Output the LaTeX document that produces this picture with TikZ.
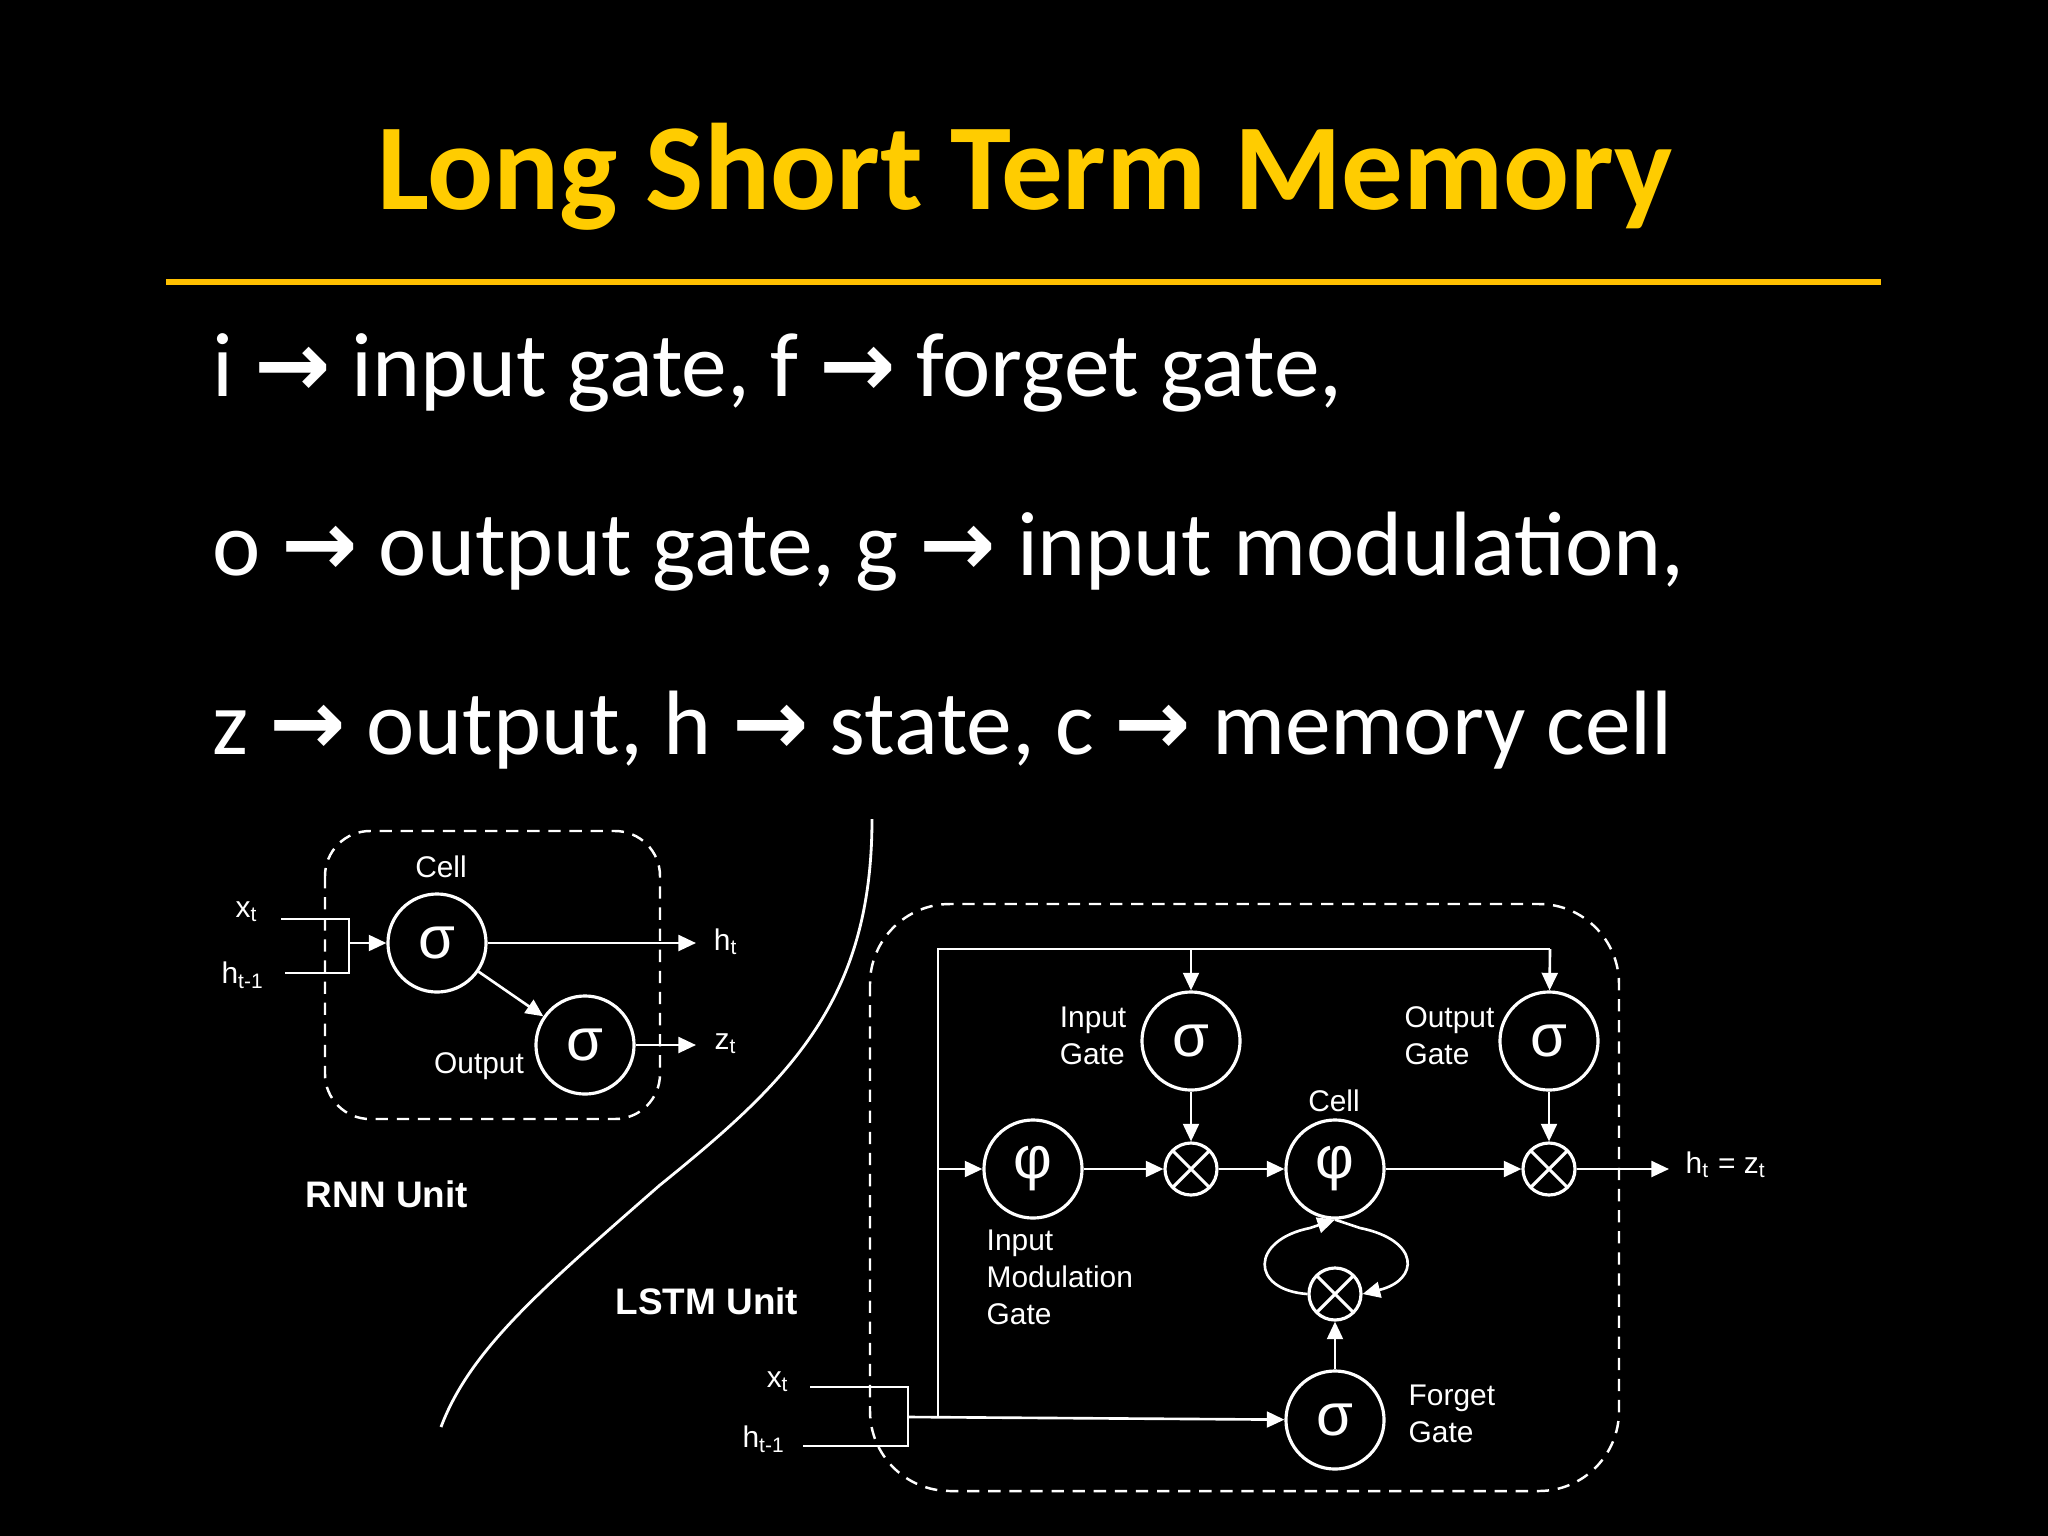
\documentclass[tikz,border=0pt]{standalone}
\usepackage{fontspec}
\setmainfont{Carlito}
\newfontfamily\arialf{Liberation Sans}
\newfontfamily\dejavu{DejaVu Sans}
\usetikzlibrary{arrows.meta}
\begin{document}
\begin{tikzpicture}[x=0.01cm,y=-0.01cm,
  ln/.style={draw=white,line width=0.75pt},
  arr/.style={ln,-{Triangle[length=5pt,width=4.5pt]}},
  circ/.style={circle,draw=white,line width=0.9pt,minimum size=0.98cm,inner sep=0pt,text=white,font=\arialf\fontsize{17}{17}\selectfont},
  mult/.style={circle,draw=white,line width=0.9pt,minimum size=0.52cm,inner sep=0pt,
    path picture={\draw[white,line width=0.9pt] (path picture bounding box.south west)--(path picture bounding box.north east) (path picture bounding box.north west)--(path picture bounding box.south east);}},
  lbl/.style={text=white,font=\arialf\fontsize{8.5}{10.5}\selectfont,inner sep=0pt},
  unit/.style={text=white,font=\arialf\bfseries\fontsize{10.5}{12}\selectfont,inner sep=0pt},
  dbox/.style={draw=white,line width=0.7pt,dash pattern=on 3.5pt off 2.5pt},
  body/.style={text=white,font=\fontsize{26}{30}\selectfont,anchor=base west,inner sep=0pt}]
\fill[black] (0,0) rectangle (2048,1536);
\useasboundingbox (0,0) rectangle (2048,1536);
% title
\node[text={rgb,255:red,255;green,204;blue,0},font=\bfseries\fontsize{35}{40}\selectfont,anchor=base] (title) at (1025,209) {Long Short Term Memory};
\draw[draw={rgb,255:red,255;green,192;blue,0},line width=1.6pt] (166,282) -- (1881,282);
\node[body] (l1) at (212,396) {i {\dejavu\bfseries →} input gate, f {\dejavu\bfseries →} forget gate,};
\node[body] (l2) at (212,575) {o {\dejavu\bfseries →} output gate, g {\dejavu\bfseries →} input modulation,};
\node[body] (l3) at (212,754) {z {\dejavu\bfseries →} output, h {\dejavu\bfseries →} state, c {\dejavu\bfseries →} memory cell};
% RNN
\draw[dbox,rounded corners=0.45cm] (325,831) rectangle (660,1119);
\node[circ] (rc) at (437,943) {σ};
\node[circ] (ro) at (585,1045) {σ};
\node[lbl] (rcl) at (441,867) {Cell};
\node[lbl] (rol) at (479,1066) {Output};
\node[lbl] (rx) at (247,912) {x\textsubscript{t}};
\node[lbl] (rh) at (243,975) {h\textsubscript{t-1}};
\coordinate (rj) at (349,943);
\draw[ln] (281,919) -- (349,919) -- (349,973) -- (285,973);
\draw[arr] (rj) -- (rc);
\coordinate (rht) at (696,943);
\coordinate (rzt) at (696,1045);
\draw[arr] (rc) -- (rht);
\draw[arr] (ro) -- (rzt);
\draw[arr] (rc) -- (ro);
\node[lbl] (rhl) at (726,942) {h\textsubscript{t}};
\node[lbl] (rzl) at (726,1044) {z\textsubscript{t}};
\node[unit] (rnn) at (387,1194) {RNN Unit};
% curve
\draw[white,line width=0.8pt] (872,819) .. controls (872,1000) and (790,1080) .. (660,1185) .. controls (540,1290) and (470,1350) .. (441,1427);
% LSTM
\draw[dbox,rounded corners=0.8cm] (870,904) rectangle (1619,1491);
\node[circ] (ig) at (1191,1041) {σ};
\node[circ] (og) at (1549,1041) {σ};
\node[circ] (im) at (1033,1169) {φ};
\node[circ] (cell) at (1335,1169) {φ};
\node[circ] (fg) at (1335,1420) {σ};
\node[mult] (m1) at (1191,1169) {};
\node[mult] (m2) at (1549,1169) {};
\node[mult] (m3) at (1335,1294) {};
\node[lbl,align=left,anchor=east] (igl) at (1127,1036) {Input\\Gate};
\node[lbl,align=left,anchor=east] (ogl) at (1495,1036) {Output\\Gate};
\node[lbl] (cl) at (1334,1101) {Cell};
\node[lbl,align=left,anchor=west] (iml) at (986,1277) {Input\\Modulation\\Gate};
\node[lbl,align=left,anchor=west] (fgl) at (1408,1414) {Forget\\Gate};
\node[lbl] (lx) at (778,1382) {x\textsubscript{t}};
\node[lbl] (lh) at (764,1439) {h\textsubscript{t-1}};
\node[unit] (lstm) at (707,1301) {LSTM Unit};
\coordinate (tl) at (938,949);
\coordinate (tig) at (1191,949);
\coordinate (tog) at (1550,949);
\coordinate (bl) at (938,1417);
\coordinate (ml) at (938,1169);
\coordinate (jn) at (908,1417);
\draw[ln] (810,1387) -- (908,1387) -- (908,1446) -- (803,1446);
\draw[ln] (bl) -- (tl) -- (tog);
\draw[arr] (tig) -- (ig);
\draw[arr] (tog) -- (og);
\draw[arr] (jn) -- (fg);
\draw[arr] (ml) -- (im);
\draw[arr] (im) -- (m1);
\draw[arr] (ig) -- (m1);
\draw[arr] (m1) -- (cell);
\draw[arr] (cell) -- (m2);
\draw[arr] (og) -- (m2);
\coordinate (out) at (1669,1169);
\draw[arr] (m2) -- (out);
\node[lbl] (outl) at (1726,1165) {h\textsubscript{t} = z\textsubscript{t}};
\draw[arr] (fg) -- (m3);
\draw[arr] (m3.west) .. controls (1250,1290) and (1250,1240) .. (1310,1228) -- (cell.south);
\draw[arr] (cell.south) -- (1360,1228) .. controls (1420,1240) and (1420,1280) .. (m3.east);
\end{tikzpicture}
\end{document}
